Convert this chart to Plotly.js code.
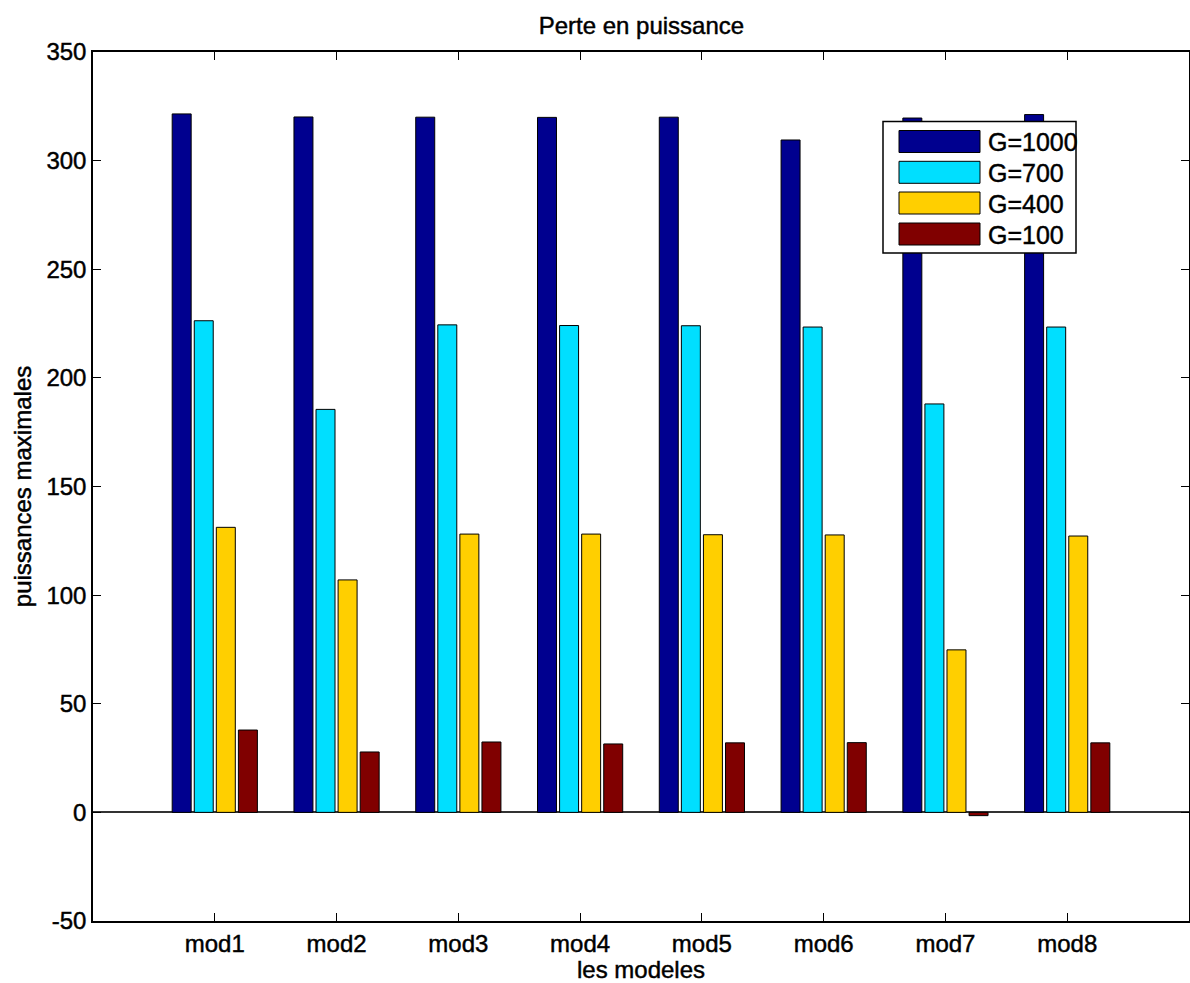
<!DOCTYPE html>
<html>
<head>
<meta charset="utf-8">
<script src="https://cdn.plot.ly/plotly-3.0.1.min.js"></script>
<style>
html,body{margin:0;padding:0;background:#fff;}
#chart{width:1190px;height:983px;}
#chart text{stroke:#000;stroke-width:0.45px;}
</style>
</head>
<body>
<div id="chart"></div>
<script>
const categories = ["mod1","mod2","mod3","mod4","mod5","mod6","mod7","mod8"];
const seriesNames = ["G=1000","G=700","G=400","G=100"];
const g1000 = [321.5, 320.1, 320.0, 319.9, 320.0, 309.5, 319.6, 321.2];
const g700  = [226.3, 185.5, 224.4, 224.1, 224.0, 223.4, 188.0, 223.4];
const g400  = [131.2, 107.0, 128.1, 128.1, 127.8, 127.7, 74.8, 127.2];
const g100  = [37.9, 27.8, 32.4, 31.5, 32.0, 32.1, -1.5, 32.0];
const colors = ["#00008F", "#00DFFF", "#FFCF00", "#800000"];
const yTicks = [-50, 0, 50, 100, 150, 200, 250, 300, 350];

const seriesData = [g1000, g700, g400, g100];
const font = "Liberation Sans, Arial, Helvetica, sans-serif";
const FS = 24;

const traces = seriesData.map((vals, i) => ({
  type: "bar",
  name: seriesNames[i],
  x: categories,
  y: vals,
  marker: {color: colors[i], line: {color: "#000", width: 1}},
  showlegend: false,
  hoverinfo: "x+y+name"
}));

// custom MATLAB-style legend
const L = 93, R = 1189, T = 52, B = 921;
const px = v => (v - L) / (R - L);
const py = v => (B - v) / (B - T);
const shapes = [{
  type: "rect", xref: "paper", yref: "paper", layer: "above",
  x0: px(883), x1: px(1076), y0: py(253), y1: py(121.5),
  fillcolor: "#fff", line: {color: "#000", width: 1.5}
}];
const annotations = [];
const rowY = [141.5, 172.3, 203, 234];
seriesNames.forEach((n, i) => {
  shapes.push({
    type: "rect", xref: "paper", yref: "paper", layer: "above",
    x0: px(899), x1: px(980), y0: py(rowY[i] + 11), y1: py(rowY[i] - 11),
    fillcolor: colors[i], line: {color: "#000", width: 1}
  });
  annotations.push({
    xref: "paper", yref: "paper", x: px(986), y: py(rowY[i] + 1),
    xanchor: "left", yanchor: "middle", showarrow: false,
    text: n, font: {family: font, size: 25, color: "#000"}
  });
});

const layout = {
  width: 1190, height: 983,
  margin: {l: 93, r: 1, t: 52, b: 62},
  paper_bgcolor: "#fff", plot_bgcolor: "#fff",
  barmode: "group", bargap: 0.275, bargroupgap: 0.14,
  title: {text: "Perte en puissance", x: 0.539, xanchor: "center", y: 0.974, yanchor: "middle",
          font: {family: font, size: FS, color: "#000"}},
  font: {family: font, size: FS, color: "#000"},
  xaxis: {
    type: "category", range: [-1, 8],
    showline: true, linecolor: "#000", linewidth: 1.5, mirror: "ticks",
    ticks: "inside", ticklen: 8, tickcolor: "#000", tickwidth: 1,
    showgrid: false, zeroline: false,
    tickfont: {family: font, size: FS, color: "#000"},
    title: {text: "les modeles", font: {family: font, size: FS, color: "#000"}, standoff: 2}
  },
  yaxis: {
    range: [-50, 350], tickvals: yTicks, ticktext: yTicks.map(String),
    showline: true, linecolor: "#000", linewidth: 1.5, mirror: "ticks",
    ticks: "inside", ticklen: 8, tickcolor: "#000", tickwidth: 1,
    showgrid: false, zeroline: true, zerolinecolor: "#333", zerolinewidth: 1.5,
    tickfont: {family: font, size: FS, color: "#000"},
    title: {text: "puissances maximales", font: {family: font, size: FS, color: "#000"}, standoff: 8}
  },
  shapes: shapes,
  annotations: annotations
};

Plotly.newPlot("chart", traces, layout, {displayModeBar: false, responsive: false});
</script>
</body>
</html>
